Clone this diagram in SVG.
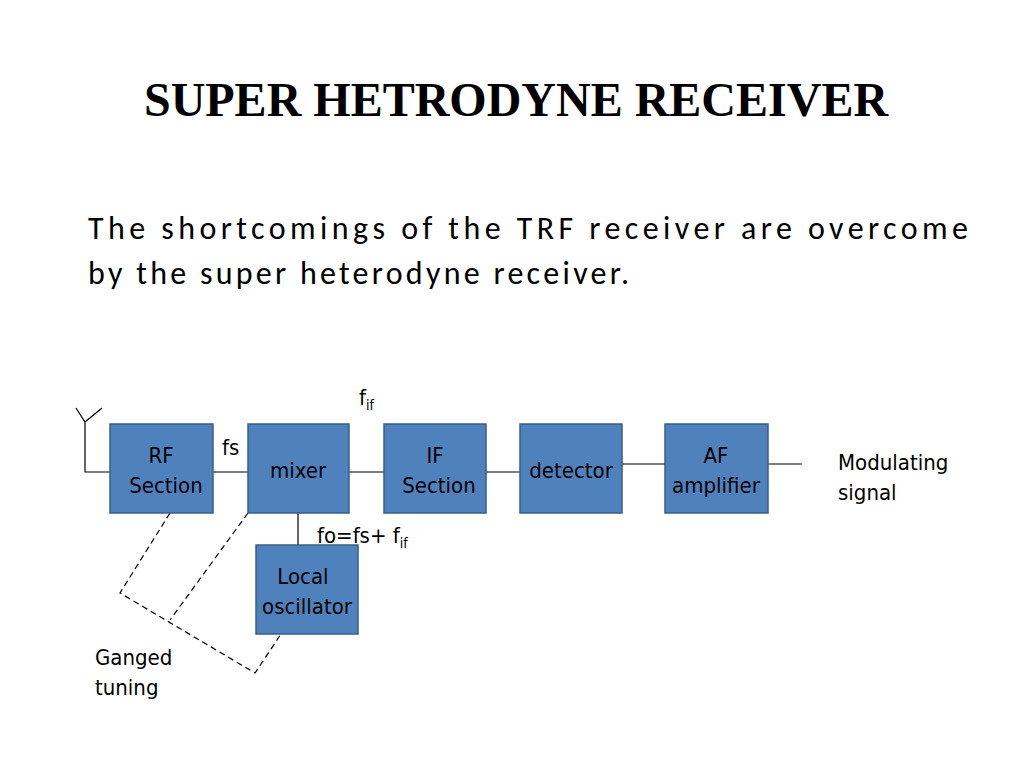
<svg xmlns="http://www.w3.org/2000/svg" width="1024" height="768" viewBox="0 0 1024 768">
<style>
.box{fill:#4f81bd;stroke:#385d8a;stroke-width:1.5}
.t{font-family:"DejaVu Sans Condensed","DejaVu Sans",sans-serif;font-size:22px;fill:#000}
.ln{stroke:#000;stroke-width:1.2;fill:none}
.d{stroke:#000;stroke-width:1.2;fill:none;stroke-dasharray:6,4}
</style>
<rect width="1024" height="768" fill="#fff"/>
<text x="516" y="116" text-anchor="middle" font-family="Liberation Serif,serif" font-weight="bold" font-size="48">SUPER HETRODYNE RECEIVER</text>
<text x="88" y="239" font-family="Carlito,Calibri,'Liberation Sans',sans-serif" font-size="32" textLength="880" lengthAdjust="spacing">The shortcomings of the TRF receiver are overcome</text>
<text x="88" y="284" font-family="Carlito,Calibri,'Liberation Sans',sans-serif" font-size="32" textLength="541" lengthAdjust="spacing">by the super heterodyne receiver.</text>
<g id="connectors">
<path class="ln" d="M76,408 L85,422 L102,408 M85,422 V472 H110"/>
<path class="ln" d="M213,472 H248 M349,472 H384 M486,472 H520 M622,464 H665 M768,464 H802 M298,513 V545"/>
<path class="d" d="M170,513 L120,593 L255,673 L281,634"/>
<path class="d" d="M248,513 L170,620"/>
</g>
<g id="rf"><rect class="box" x="110" y="424" width="103" height="89"/><text class="t" x="161" y="463" text-anchor="middle">RF</text><text class="t" x="166" y="493" text-anchor="middle">Section</text></g>
<g id="mixer"><rect class="box" x="248" y="424" width="101" height="89"/><text class="t" x="298" y="478" text-anchor="middle">mixer</text></g>
<g id="if"><rect class="box" x="384" y="424" width="102" height="89"/><text class="t" x="435" y="463" text-anchor="middle">IF</text><text class="t" x="439" y="493" text-anchor="middle">Section</text></g>
<g id="detector"><rect class="box" x="520" y="424" width="102" height="89"/><text class="t" x="571" y="478" text-anchor="middle">detector</text></g>
<g id="af"><rect class="box" x="665" y="424" width="103" height="89"/><text class="t" x="716" y="463" text-anchor="middle">AF</text><text class="t" x="716" y="493" text-anchor="middle">amplifier</text></g>
<g id="lo"><rect class="box" x="256" y="545" width="102" height="89"/><text class="t" x="303" y="584" text-anchor="middle">Local</text><text class="t" x="307" y="614" text-anchor="middle">oscillator</text></g>
<text class="t" x="222" y="455">fs</text>
<text class="t" x="359" y="405">f<tspan font-size="14" dy="5">if</tspan></text>
<text class="t" x="317" y="543">fo=fs+ f<tspan font-size="14" dy="5">if</tspan></text>
<text class="t" x="838" y="470">Modulating</text>
<text class="t" x="838" y="500">signal</text>
<text class="t" x="95" y="665">Ganged</text>
<text class="t" x="95" y="695">tuning</text>
</svg>
